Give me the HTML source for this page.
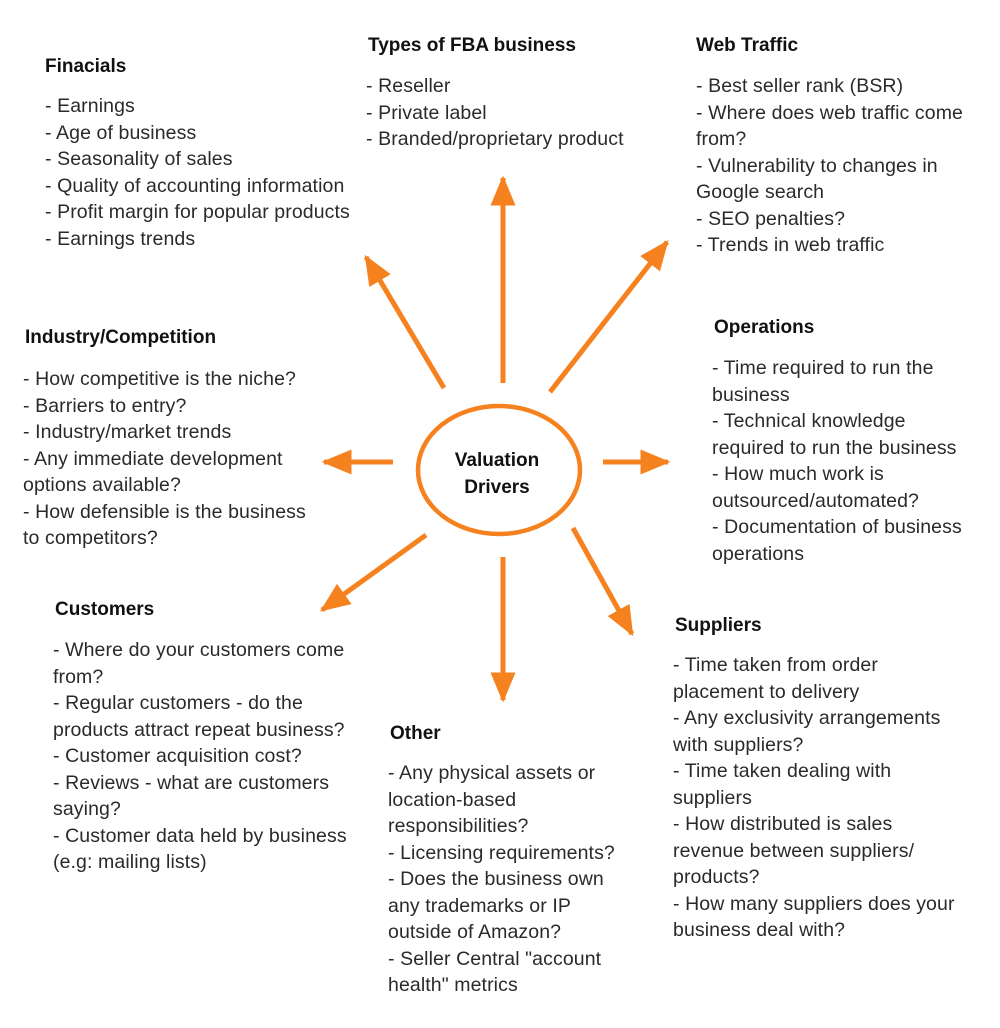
<!DOCTYPE html>
<html><head><meta charset="utf-8"><style>
body{margin:0;width:1000px;height:1028px;background:#fff;position:relative;font-family:"Liberation Sans",sans-serif;overflow:hidden}
.b{position:absolute;font-size:19.5px;line-height:26.5px;color:#2a2a2a;white-space:nowrap;letter-spacing:0.1px}
.h{position:absolute;font-size:19px;font-weight:bold;color:#111;white-space:nowrap}
svg{position:absolute;left:0;top:0}
</style></head><body>
<svg width="1000" height="1028">
<defs><marker id="a" markerWidth="6" markerHeight="5" refX="5.5" refY="2.5" orient="auto" markerUnits="strokeWidth"><path d="M0,0 L6,2.5 L0,5 Z" fill="#f5821f"/></marker></defs>
<g stroke="#f5821f" stroke-width="5" fill="none">
<ellipse cx="499" cy="470" rx="81" ry="64" stroke-width="4.5"/>
<line x1="503" y1="383" x2="503" y2="178" marker-end="url(#a)"/>
<line x1="550" y1="392" x2="667" y2="242" marker-end="url(#a)"/>
<line x1="603" y1="462" x2="668" y2="462" marker-end="url(#a)"/>
<line x1="393" y1="462" x2="324" y2="462" marker-end="url(#a)"/>
<line x1="444" y1="388" x2="366" y2="257" marker-end="url(#a)"/>
<line x1="426" y1="535" x2="322" y2="610" marker-end="url(#a)"/>
<line x1="503" y1="557" x2="503" y2="700" marker-end="url(#a)"/>
<line x1="573" y1="528" x2="632" y2="634" marker-end="url(#a)"/>
</g>
<text x="497" y="466" font-family="Liberation Sans,sans-serif" font-weight="bold" font-size="19" text-anchor="middle" fill="#111">Valuation</text>
<text x="497" y="493" font-family="Liberation Sans,sans-serif" font-weight="bold" font-size="19" text-anchor="middle" fill="#111">Drivers</text>
</svg>
<div class="h" style="left:45px;top:56px">Finacials</div>
<div class="b" style="left:45px;top:93px">- Earnings<br>- Age of business<br>- Seasonality of sales<br>- Quality of accounting information<br>- Profit margin for popular products<br>- Earnings trends</div>
<div class="h" style="left:368px;top:35px">Types of FBA business</div>
<div class="b" style="left:366px;top:73px">- Reseller<br>- Private label<br>- Branded/proprietary product</div>
<div class="h" style="left:696px;top:35px">Web Traffic</div>
<div class="b" style="left:696px;top:73px">- Best seller rank (BSR)<br>- Where does web traffic come<br>from?<br>- Vulnerability to changes in<br>Google search<br>- SEO penalties?<br>- Trends in web traffic</div>
<div class="h" style="left:25px;top:327px">Industry/Competition</div>
<div class="b" style="left:23px;top:366px">- How competitive is the niche?<br>- Barriers to entry?<br>- Industry/market trends<br>- Any immediate development<br>options available?<br>- How defensible is the business<br>to competitors?</div>
<div class="h" style="left:714px;top:317px">Operations</div>
<div class="b" style="left:712px;top:355px">- Time required to run the<br>business<br>- Technical knowledge<br>required to run the business<br>- How much work is<br>outsourced/automated?<br>- Documentation of business<br>operations</div>
<div class="h" style="left:55px;top:599px">Customers</div>
<div class="b" style="left:53px;top:637px">- Where do your customers come<br>from?<br>- Regular customers - do the<br>products attract repeat business?<br>- Customer acquisition cost?<br>- Reviews - what are customers<br>saying?<br>- Customer data held by business<br>(e.g: mailing lists)</div>
<div class="h" style="left:675px;top:615px">Suppliers</div>
<div class="b" style="left:673px;top:652px">- Time taken from order<br>placement to delivery<br>- Any exclusivity arrangements<br>with suppliers?<br>- Time taken dealing with<br>suppliers<br>- How distributed is sales<br>revenue between suppliers/<br>products?<br>- How many suppliers does your<br>business deal with?</div>
<div class="h" style="left:390px;top:723px">Other</div>
<div class="b" style="left:388px;top:760px">- Any physical assets or<br>location-based<br>responsibilities?<br>- Licensing requirements?<br>- Does the business own<br>any trademarks or IP<br>outside of Amazon?<br>- Seller Central "account<br>health" metrics</div>
</body></html>
